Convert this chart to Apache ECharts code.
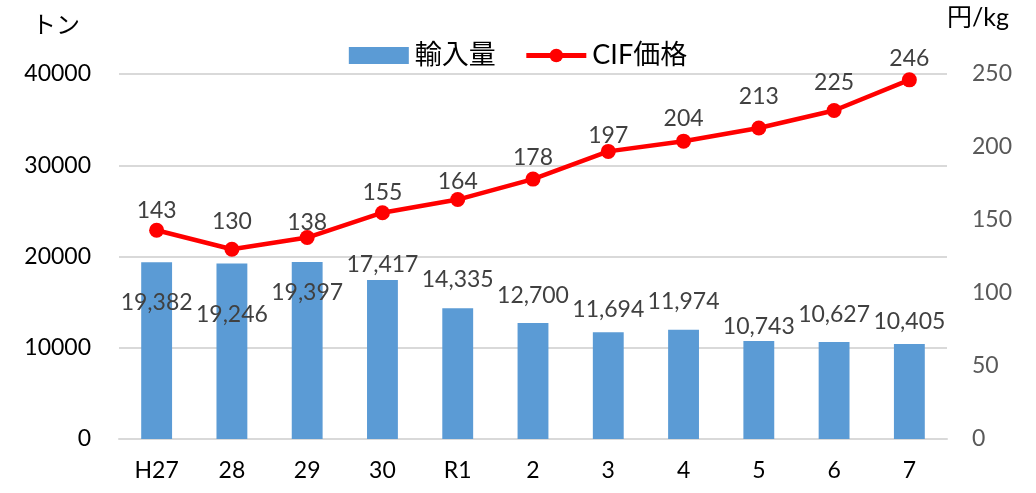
<!DOCTYPE html>
<html><head><meta charset="utf-8">
<script src="https://cdn.jsdelivr.net/npm/echarts@6/dist/echarts.min.js"></script>
<style>html,body{margin:0;padding:0;background:#fff}#c{width:1036px;height:493px}</style>
</head><body><div id="c"></div>
<script>
const categories = ['H27','28','29','30','R1','2','3','4','5','6','7'];
const importVolume = [19382,19246,19397,17417,14335,12700,11694,11974,10743,10627,10405];
const cifPrice = [143,130,138,155,164,178,197,204,213,225,246];
const leftTicks = [0,10000,20000,30000,40000];
const rightTicks = [0,50,100,150,200,250];

// label vertical offsets (style only, px)
const barLabelShift = [51.5,62.5,42.5,-3.5,-17.5,-16.5,-11.5,-16.5,-2.5,-15.5,-10.5];
const lineLabelShift = [-1,-9,4,-1,1,-3,3,-4,-12,-9,-2];

const FONT = 'Lato, "Noto Sans CJK JP", sans-serif';
const chart = echarts.init(document.getElementById('c'));
chart.setOption({
  animation:false,
  textStyle:{fontFamily:FONT},
  grid:{left:119,right:89,top:74,bottom:54,containLabel:false},
  legend:{
    top:37,left:'center',itemGap:28,itemWidth:60,itemHeight:17,
    textStyle:{fontSize:27,color:'#000',fontFamily:FONT,padding:[0,0,0,1]},
    data:[
      {name:'輸入量',icon:'rect'},
      {name:'CIF価格',itemStyle:{color:'#ff0000'},lineStyle:{color:'#ff0000',width:5}}
    ]
  },
  graphic:[
    {type:'text',left:32,top:13,style:{text:'トン',font:'24px '+FONT,fill:'#000'}},
    {type:'text',left:947,top:5,style:{text:'円/kg',font:'25px '+FONT,fill:'#000'}}
  ],
  xAxis:{
    type:'category',data:categories,
    axisLine:{lineStyle:{color:'#d9d9d9',width:2}},
    axisTick:{show:false},
    axisLabel:{fontSize:23,color:'#000',margin:20}
  },
  yAxis:[
    {type:'value',min:0,max:40000,interval:10000,
     axisLabel:{fontSize:23,color:'#000',margin:28,formatter:v=>String(v)},
     splitLine:{lineStyle:{color:'#d9d9d9',width:2}},
     axisLine:{show:false},axisTick:{show:false}},
    {type:'value',min:0,max:250,interval:50,
     axisLabel:{fontSize:23,color:'#595959',margin:25},
     splitLine:{show:false},axisLine:{show:false},axisTick:{show:false}}
  ],
  series:[
    {name:'輸入量',type:'bar',yAxisIndex:0,barWidth:'41%',
     itemStyle:{color:'#5b9bd5'},
     data:importVolume.map((v,i)=>({value:v,label:{offset:[0,barLabelShift[i]]}})),
     label:{show:true,position:'top',distance:0,fontSize:23,color:'#404040',
       formatter:p=>p.value.toLocaleString('en-US')}},
    {name:'CIF価格',type:'line',yAxisIndex:1,
     data:cifPrice.map((v,i)=>({value:v,label:{offset:[0,lineLabelShift[i]]}})),
     lineStyle:{color:'#ff0000',width:4.5},itemStyle:{color:'#ff0000'},
     symbol:'circle',symbolSize:15,z:5,
     label:{show:true,position:'top',distance:0,fontSize:23,color:'#404040'}}
  ]
});
</script></body></html>
